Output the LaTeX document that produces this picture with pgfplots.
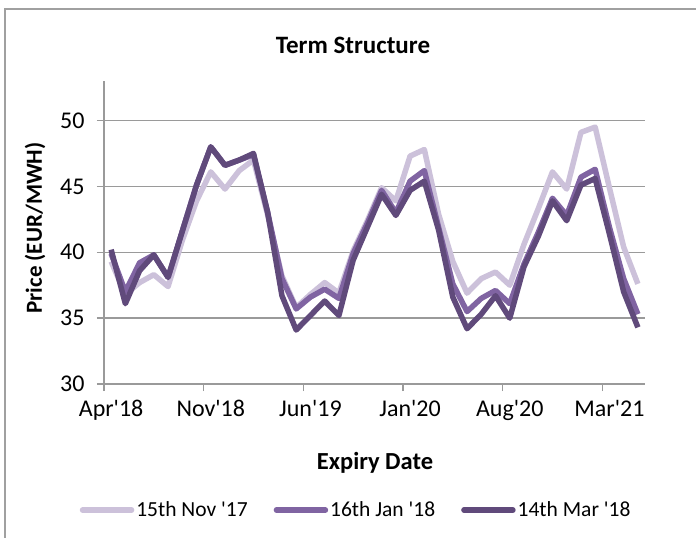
\documentclass[border=0pt]{standalone}
\usepackage{pgfplots}
\pgfplotsset{compat=1.18}
\usepackage{pgfplotstable}
\usepackage{fontspec}
\setmainfont{Carlito}
\newcommand{\q}{\textquotesingle}
\definecolor{cLight}{HTML}{CCC1DA}
\definecolor{cMed}{HTML}{8064A2}
\definecolor{cDark}{HTML}{604A7B}
\definecolor{gridGray}{HTML}{9A9A9A}
\definecolor{frameGray}{HTML}{A0A0A0}
\pgfplotstableread{
i light medium dark
0 39.3 39.9 40.2
1 36.8 37.0 36.1
2 37.7 39.2 38.6
3 38.3 39.8 39.8
4 37.4 38.1 38.1
5 40.9 41.6 41.6
6 43.9 45.1 45.1
7 46.1 48.0 48.0
8 44.8 46.6 46.6
9 46.2 47.0 47.0
10 47.0 47.4 47.5
11 42.8 43.0 43.0
12 38.2 38.0 36.7
13 35.8 35.7 34.1
14 36.8 36.6 35.2
15 37.7 37.2 36.3
16 36.9 36.5 35.2
17 40.1 39.9 39.4
18 42.4 42.2 41.9
19 44.9 44.7 44.4
20 43.9 43.0 42.8
21 47.3 45.4 44.7
22 47.8 46.2 45.4
23 42.9 41.9 41.7
24 39.3 37.6 36.6
25 36.9 35.5 34.2
26 38.0 36.5 35.3
27 38.5 37.1 36.7
28 37.5 36.1 35.0
29 40.6 39.1 38.9
30 43.3 41.5 41.2
31 46.1 44.1 43.9
32 44.8 42.8 42.4
33 49.1 45.7 45.1
34 49.5 46.3 45.6
35 44.9 41.9 41.4
36 40.4 38.0 37.0
37 37.6 35.3 34.3
}\datatable
\begin{document}
\begin{tikzpicture}[font=\fontsize{22}{26}\selectfont]
\useasboundingbox (0pt,0pt) rectangle (696pt,-538pt);
\draw[color=frameGray, line width=1.3pt] (5pt,-538pt) -- (5pt,-9pt) -- (696pt,-9pt);
\node[font=\fontsize{25}{29}\selectfont\bfseries] at (353pt,-45pt) {Term Structure};
\node[font=\fontsize{23}{27}\selectfont\bfseries, rotate=90] at (35pt,-228pt) {Price (EUR/MWH)};
\node[font=\fontsize{24.5}{28}\selectfont\bfseries] at (375pt,-463pt) {Expiry Date};
\begin{axis}[
  at={(104pt,-384pt)}, anchor=south west,
  scale only axis, width=541pt, height=303pt,
  xmin=-0.5, xmax=37.5, ymin=30, ymax=53,
  axis x line*=bottom, axis y line*=left,
  axis line style={gridGray, line width=1.5pt, -},
  tick align=outside, major tick length=7pt,
  tick style={gridGray, line width=1.3pt},
  xtick={-0.5,6.5,13.5,20.5,27.5,34.5},
  xticklabels={Apr\q18,Nov\q18,Jun\q19,Jan\q20,Aug\q20,Mar\q21},
  xticklabel style={xshift=7.12pt, yshift=-6pt},
  yticklabel style={xshift=-9pt},
  ytick={30,35,40,45,50},
  ymajorgrids, grid style={gridGray, line width=1.3pt},
  /pgf/number format/assume math mode=true,
  tick label style={font=\fontsize{24}{28}\selectfont},
  legend style={at={(0.466,-0.416)}, anchor=center, draw=none, fill=none,
    legend columns=3, font=\fontsize{21.5}{25}\selectfont,
    /tikz/every even column/.append style={column sep=24pt},
    nodes={inner xsep=2pt}},
  legend image code/.code={\draw[#1, line width=5.5pt, line cap=round] (0pt,0pt) -- (49pt,0pt);},
  every axis plot/.append style={line width=5.5pt, line join=round},
]
\addplot[cLight, no markers] table[x=i, y=light] {\datatable};
\addlegendentry{15th Nov \q17}
\addplot[cMed, no markers] table[x=i, y=medium] {\datatable};
\addlegendentry{16th Jan \q18}
\addplot[cDark, no markers] table[x=i, y=dark] {\datatable};
\addlegendentry{14th Mar \q18}
\end{axis}
\end{tikzpicture}
\end{document}
